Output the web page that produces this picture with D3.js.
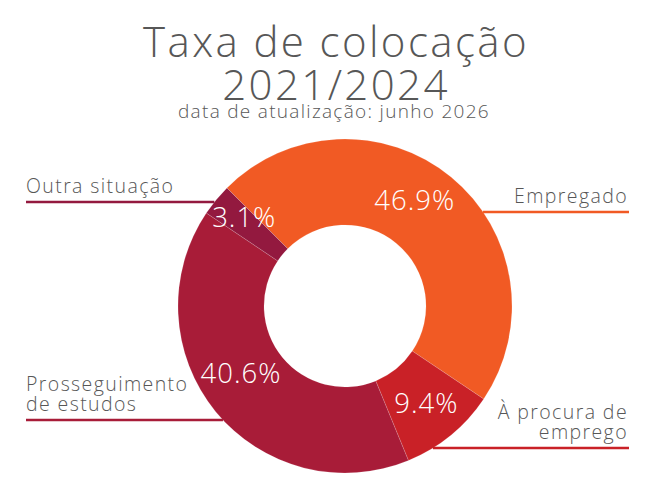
<!DOCTYPE html>
<html>
<head>
<meta charset="utf-8">
<script src="https://cdn.jsdelivr.net/npm/d3@7"></script>
<style>
  html, body { margin: 0; padding: 0; background: #fff; }
  svg text { font-family: "Open Sans", "Lato", sans-serif; }
</style>
</head>
<body>
<div id="chart"></div>
<script>
// chart data
const categories = ["Empregado", "À procura de emprego", "Prosseguimento de estudos", "Outra situação"];
const values = [46.9, 9.4, 40.6, 3.1];
const labelLines = [["Empregado"], ["À procura de", "emprego"], ["Prosseguimento", "de estudos"], ["Outra situação"]];
const colors = ["#f15a24", "#c92127", "#a81c38", "#93193f"];
const titleLines = ["Taxa de colocação", "2021/2024"];
const subtitle = "data de atualização: junho 2026";

// layout: label side, leader line height and nudge of the percentage per slice
const labelLayout = [
  { side: "right", lineY: 212, nudge: [-9, 0] },
  { side: "right", lineY: 448, nudge: [3, 11] },
  { side: "left", lineY: 420, nudge: [-8, -1] },
  { side: "left", lineY: 202, nudge: [-5, 0] }
];

const width = 650;
const height = 500;
const cx = 345, cy = 306;
const outerR = 167, innerR = 81;
const leftX = 26, rightX = 628;

const svg = d3.select("#chart")
  .append("svg")
  .attr("width", width)
  .attr("height", height);

// title
const title = svg.append("text")
  .attr("x", 335)
  .attr("text-anchor", "middle")
  .style("fill", "#575757")
  .style("font-size", "42px")
  .style("font-weight", 300)
  .style("letter-spacing", "2.4px");

title.selectAll("tspan")
  .data(titleLines)
  .enter().append("tspan")
  .attr("x", 336)
  .attr("y", (d, i) => 57 + i * 43)
  .text(d => d);

svg.append("text")
  .attr("x", 334)
  .attr("y", 118)
  .attr("text-anchor", "middle")
  .style("fill", "#575757")
  .style("font-size", "19px")
  .style("font-weight", 300)
  .style("letter-spacing", "1.3px")
  .text(subtitle);

// donut
const pie = d3.pie()
  .sort(null)
  .value(d => d)
  .startAngle(-Math.PI / 4)
  .endAngle(2 * Math.PI - Math.PI / 4);

const arc = d3.arc()
  .innerRadius(innerR)
  .outerRadius(outerR);

const labelArc = d3.arc()
  .innerRadius((innerR + outerR) / 2)
  .outerRadius((innerR + outerR) / 2);

const g = svg.append("g")
  .attr("transform", `translate(${cx},${cy})`);

const arcs = pie(values);

g.selectAll(".slice")
  .data(arcs)
  .enter().append("path")
  .attr("class", "slice")
  .attr("d", arc)
  .style("fill", (d, i) => colors[i])
  .style("stroke", "rgba(255,255,255,0.3)")
  .style("stroke-width", 0.5);

// percentages: baseline on the slice centroid
g.selectAll(".pct")
  .data(arcs)
  .enter().append("text")
  .attr("class", "pct")
  .attr("transform", d => `translate(${labelArc.centroid(d)})`)
  .attr("text-anchor", "middle")
  .attr("dx", (d, i) => labelLayout[i].nudge[0])
  .attr("dy", (d, i) => labelLayout[i].nudge[1])
  .style("fill", "#fff")
  .style("font-size", "27.5px")
  .style("font-weight", 300)
  .style("letter-spacing", "1px")
  .text(d => d.value.toFixed(1) + "%");

// leader lines and category labels
arcs.forEach((d, i) => {
  const lay = labelLayout[i];
  const dy = lay.lineY - cy;
  const edge = Math.sqrt(Math.max(0, outerR * outerR - dy * dy));
  const right = lay.side === "right";
  const x1 = right ? cx + edge : cx - edge;
  const x2 = right ? rightX + 1 : leftX;

  svg.append("line")
    .attr("x1", x1).attr("x2", x2)
    .attr("y1", lay.lineY).attr("y2", lay.lineY)
    .style("stroke", colors[i])
    .style("stroke-width", 2.5);

  const lines = labelLines[i];
  const t = svg.append("text")
    .attr("text-anchor", right ? "end" : "start")
    .style("fill", "#575757")
    .style("font-size", "19.5px")
    .style("font-weight", 300)
    .style("letter-spacing", "1.4px");

  t.selectAll("tspan")
    .data(lines)
    .enter().append("tspan")
    .attr("x", right ? rightX : leftX)
    .attr("y", (s, j) => lay.lineY - 9 - (lines.length - 1 - j) * 20)
    .text(s => s);
});
</script>
</body>
</html>
